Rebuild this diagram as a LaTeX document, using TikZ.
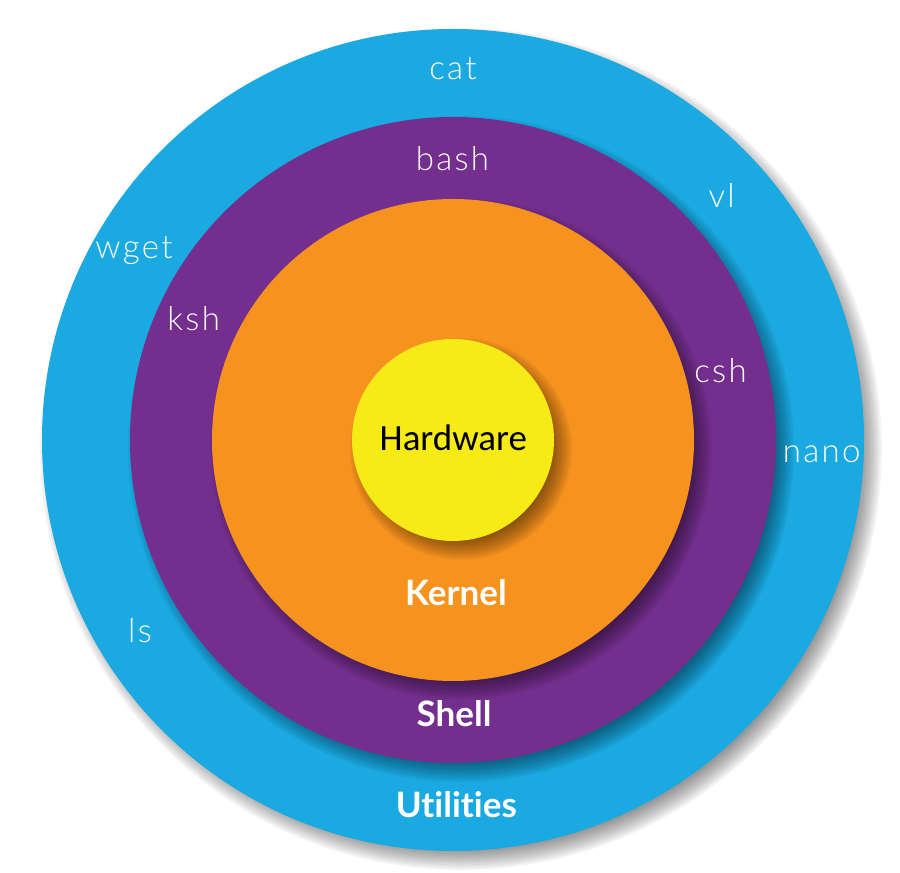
\documentclass[tikz,border=0pt]{standalone}
\usepackage{fontspec}
\setmainfont{Lato}[Ligatures=NoCommon]
\newfontfamily\thinfont{Lato Light}[LetterSpace=7]
\newfontfamily\hwfont{Carlito}
\usepackage{tikz}
\usetikzlibrary{positioning}

\definecolor{utilblue}{RGB}{26,169,225}
\definecolor{shellpurple}{RGB}{116,47,142}
\definecolor{kernelorange}{RGB}{246,146,30}
\definecolor{hwyellow}{RGB}{246,235,22}

\tikzset{
  cmdlbl/.style={anchor=base,text=white,inner sep=0pt,font=\thinfont\fontsize{33}{38}\selectfont},
  layerlbl/.style={anchor=base,text=white,inner sep=0pt,font=\bfseries\fontsize{35}{40}\selectfont},
}

\begin{document}
\begin{tikzpicture}[x=1pt,y=1pt]
\useasboundingbox (0,0) rectangle (900,873);
\coordinate (c) at (453,433);

% rings, each with a soft shadow down to the right
\foreach \rad/\col in {411/utilblue,323/shellpurple,241/kernelorange,101/hwyellow} {
  \foreach \k in {0,...,9}
    \fill[black,opacity=0.05] (461,424) circle ({\rad-10+2.2*\k});
  \fill[\col] (c) circle (\rad);
}

\node[anchor=base,inner sep=0pt,font=\hwfont\fontsize{37}{42}\selectfont] (hw) at (453.3,422) {Hardware};
\node[layerlbl] (kernel) at (456,267) {Kernel};
\node[layerlbl] (shell) at (454,146) {Shell};
\node[layerlbl] (util) at (456.3,55) {Utilities};

\node[cmdlbl] (bash) at (452.5,702) {bash};
\node[cmdlbl] (ksh) at (193.7,542) {ksh};
\node[cmdlbl] (csh) at (720.5,490) {csh};

\node[cmdlbl] (cat) at (453,793) {cat};
\node[cmdlbl] (vl) at (721.7,665) {vl};
\node[cmdlbl] (wget) at (134,614) {wget};
\node[cmdlbl] (nano) at (821.7,410) {nano};
\node[cmdlbl] (ls) at (140,230) {ls};
\end{tikzpicture}
\end{document}
